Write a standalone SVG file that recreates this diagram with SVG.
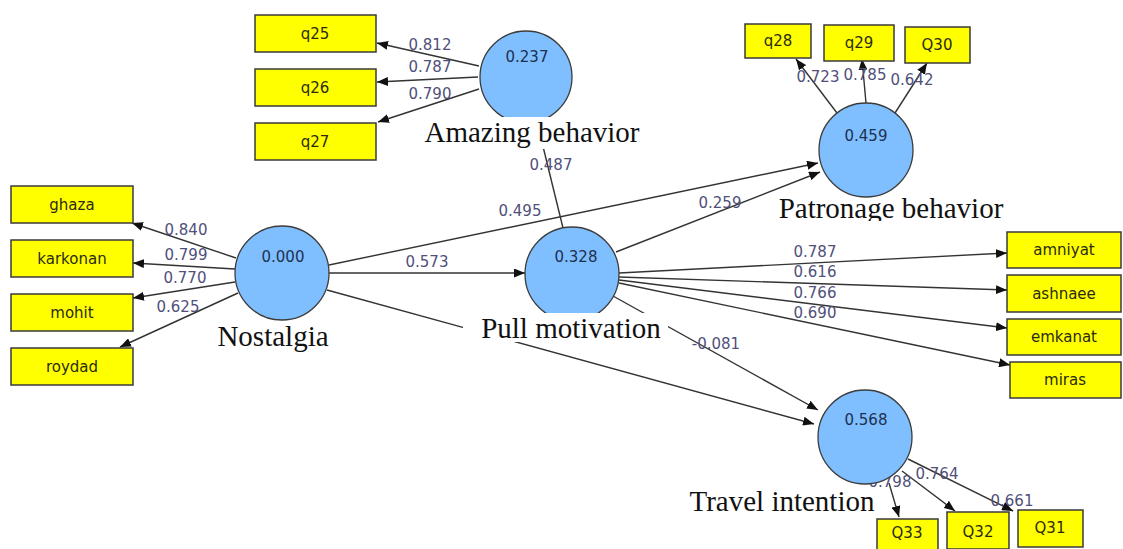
<svg xmlns="http://www.w3.org/2000/svg" width="1123" height="549" viewBox="0 0 1123 549">
<style>
.box{fill:#ffff00;stroke:#3a3a3a;stroke-width:1.5}
.bt{font-family:"DejaVu Sans",sans-serif;font-size:15px;fill:#2b2b10;text-anchor:middle}
.lv{fill:#7fbfff;stroke:#3c3c3c;stroke-width:1.3}
.vt{font-family:"DejaVu Sans",sans-serif;font-size:15px;fill:#1e3050;text-anchor:middle}
.nm{font-family:"Liberation Serif","Times New Roman",serif;font-size:29px;fill:#111;text-anchor:middle}
.ln{stroke:#333;stroke-width:1.4;fill:none;marker-end:url(#ah)}
.wt{font-family:"DejaVu Sans",sans-serif;font-size:15px;fill:#50507a;text-anchor:middle}
.bg{fill:#ffffff}
</style>
<defs>
<marker id="ah" markerUnits="userSpaceOnUse" markerWidth="12" markerHeight="9" refX="11" refY="4.5" orient="auto">
<path d="M0,0 L11,4.5 L0,9 z" fill="#111"/>
</marker>
<clipPath id="pclip"><rect x="700" y="180" width="330" height="41"/></clipPath>
</defs>
<rect width="1123" height="549" fill="#ffffff"/>

<g id="connectors">
<line class="ln" x1="479" y1="66" x2="377" y2="43"/>
<line class="ln" x1="478" y1="77" x2="377" y2="82"/>
<line class="ln" x1="479" y1="89" x2="378" y2="122"/>
<line class="ln" x1="236" y1="258" x2="132" y2="223"/>
<line class="ln" x1="235" y1="269" x2="133" y2="263"/>
<line class="ln" x1="235" y1="282" x2="133" y2="298"/>
<line class="ln" x1="238" y1="293" x2="120" y2="347"/>
<line class="ln" x1="329" y1="273" x2="525" y2="273"/>
<line class="ln" x1="329" y1="265" x2="818" y2="163"/>
<line class="ln" x1="327" y1="290" x2="814" y2="424"/>
<line class="ln" x1="616" y1="252" x2="820" y2="172"/>
<line class="ln" x1="563" y1="228" x2="537" y2="122"/>
<line class="ln" x1="619" y1="273" x2="1007" y2="253"/>
<line class="ln" x1="619" y1="277" x2="1007" y2="290"/>
<line class="ln" x1="619" y1="280" x2="1007" y2="328"/>
<line class="ln" x1="619" y1="283" x2="1010" y2="365"/>
<line class="ln" x1="613" y1="296" x2="818" y2="410"/>
<line class="ln" x1="837" y1="113" x2="796" y2="59"/>
<line class="ln" x1="866" y1="103" x2="862" y2="59"/>
<line class="ln" x1="895" y1="113" x2="927" y2="63"/>
<line class="ln" x1="889" y1="483" x2="899" y2="517"/>
<line class="ln" x1="902" y1="471" x2="955" y2="511"/>
<line class="ln" x1="908" y1="459" x2="1013" y2="511"/>
<text class="wt" x="430" y="50">0.812</text>
<text class="wt" x="430" y="72">0.787</text>
<text class="wt" x="430" y="99">0.790</text>
<text class="wt" x="186" y="235">0.840</text>
<text class="wt" x="186" y="260">0.799</text>
<text class="wt" x="185" y="283">0.770</text>
<text class="wt" x="178" y="312">0.625</text>
<text class="wt" x="427" y="267">0.573</text>
<text class="wt" x="520" y="216">0.495</text>
<text class="wt" x="720" y="208">0.259</text>
<text class="wt" x="551" y="170">0.487</text>
<text class="wt" x="818" y="82">0.723</text>
<text class="wt" x="865" y="80">0.785</text>
<text class="wt" x="912" y="85">0.642</text>
<text class="wt" x="815" y="257">0.787</text>
<text class="wt" x="815" y="277">0.616</text>
<text class="wt" x="815" y="298">0.766</text>
<text class="wt" x="815" y="318">0.690</text>
<text class="wt" x="716" y="349">-0.081</text>
<text class="wt" x="890" y="487">0.798</text>
<text class="wt" x="937" y="479">0.764</text>
<text class="wt" x="1012" y="506">0.661</text>
</g>

<g id="q25"><rect class="box" x="255" y="15" width="121" height="37"/><text class="bt" x="315" y="39">q25</text></g>
<g id="q26"><rect class="box" x="255" y="69" width="121" height="37"/><text class="bt" x="315" y="93">q26</text></g>
<g id="q27"><rect class="box" x="255" y="123" width="121" height="37"/><text class="bt" x="315" y="147">q27</text></g>
<g id="q28"><rect class="box" x="745" y="24" width="66" height="34"/><text class="bt" x="778" y="46">q28</text></g>
<g id="q29"><rect class="box" x="824" y="25" width="70" height="36"/><text class="bt" x="859" y="48">q29</text></g>
<g id="Q30"><rect class="box" x="905" y="27" width="65" height="36"/><text class="bt" x="937" y="50">Q30</text></g>
<g id="ghaza"><rect class="box" x="11" y="186" width="122" height="37"/><text class="bt" x="72" y="210">ghaza</text></g>
<g id="karkonan"><rect class="box" x="11" y="240" width="122" height="37"/><text class="bt" x="72" y="264">karkonan</text></g>
<g id="mohit"><rect class="box" x="11" y="294" width="122" height="37"/><text class="bt" x="72" y="318">mohit</text></g>
<g id="roydad"><rect class="box" x="11" y="348" width="122" height="37"/><text class="bt" x="72" y="372">roydad</text></g>
<g id="amniyat"><rect class="box" x="1007" y="232" width="114" height="36"/><text class="bt" x="1064" y="255">amniyat</text></g>
<g id="ashnaee"><rect class="box" x="1007" y="275" width="114" height="37"/><text class="bt" x="1064" y="299">ashnaee</text></g>
<g id="emkanat"><rect class="box" x="1007" y="319" width="114" height="36"/><text class="bt" x="1064" y="342">emkanat</text></g>
<g id="miras"><rect class="box" x="1010" y="362" width="111" height="36"/><text class="bt" x="1065" y="385">miras</text></g>
<g id="Q33"><rect class="box" x="877" y="519" width="61" height="37"/><text class="bt" x="907" y="538">Q33</text></g>
<g id="Q32"><rect class="box" x="947" y="512" width="62" height="37"/><text class="bt" x="978" y="537">Q32</text></g>
<g id="Q31"><rect class="box" x="1018" y="510" width="65" height="37"/><text class="bt" x="1050" y="533">Q31</text></g>

<g id="amazing">
<circle class="lv" cx="526" cy="77" r="46"/>
<text class="vt" x="527" y="62">0.237</text>
<rect class="bg" x="418" y="117" width="228" height="32"/>
<text class="nm" x="532" y="142">Amazing behavior</text>
</g>
<g id="nostalgia">
<circle class="lv" cx="282" cy="273" r="47"/>
<text class="vt" x="283" y="262">0.000</text>
<text class="nm" x="273" y="346">Nostalgia</text>
</g>
<g id="pull">
<circle class="lv" cx="572" cy="274" r="47"/>
<text class="vt" x="576" y="262">0.328</text>
<rect class="bg" x="463" y="313" width="205" height="29"/>
<text class="nm" x="571" y="338">Pull motivation</text>
</g>
<g id="patronage">
<circle class="lv" cx="866" cy="150" r="47"/>
<text class="vt" x="866" y="141">0.459</text>
<text class="nm" x="891" y="218" clip-path="url(#pclip)">Patronage behavior</text>
</g>
<g id="travel">
<circle class="lv" cx="865" cy="437" r="47"/>
<text class="vt" x="866" y="425">0.568</text>
<rect class="bg" x="688" y="491" width="190" height="27"/>
<text class="nm" x="782" y="511">Travel intention</text>
</g>
</svg>
